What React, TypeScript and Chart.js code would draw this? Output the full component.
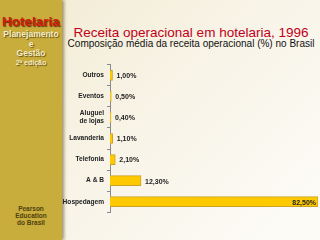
import React, { useEffect, useRef } from "react";
import { Chart, registerables } from "chart.js";

Chart.register(...registerables);

const categories: (string | string[])[] = [
  "Outros",
  "Eventos",
  ["Aluguel", "de lojas"],
  "Lavanderia",
  "Telefonia",
  "A & B",
  "Hospedagem",
];
const values = [1.0, 0.5, 0.4, 1.1, 2.1, 12.3, 82.5];
const valueLabels = ["1,00%", "0,50%", "0,40%", "1,10%", "2,10%", "12,30%", "82,50%"];

const FONT = "'Liberation Sans', Arial, sans-serif";

const labelPlugin = {
  id: "valueLabels",
  afterDatasetsDraw(chart: any) {
    const ctx = chart.ctx;
    const meta = chart.getDatasetMeta(0);
    ctx.save();
    ctx.font = `bold 7px ${FONT}`;
    ctx.fillStyle = "#222";
    ctx.textBaseline = "middle";
    meta.data.forEach((bar: any, i: number) => {
      const txt = valueLabels[i];
      const w = ctx.measureText(txt).width;
      if (bar.x + 4 + w > chart.chartArea.right) {
        ctx.textAlign = "right";
        ctx.fillText(txt, bar.x - 2, bar.y + 1);
      } else {
        ctx.textAlign = "left";
        ctx.fillText(txt, bar.x + 4, bar.y + 1);
      }
    });
    ctx.restore();
  },
};

export default function App() {
  const ref = useRef<HTMLCanvasElement>(null);
  useEffect(() => {
    if (!ref.current) return;
    const chart = new Chart(ref.current, {
      type: "bar",
      data: {
        labels: categories,
        datasets: [
          {
            data: values,
            backgroundColor: "#FFC900",
            borderColor: "#C9A227",
            borderWidth: 1,
            barThickness: 10,
          },
        ],
      },
      options: {
        indexAxis: "y",
        animation: false,
        responsive: false,
        maintainAspectRatio: false,
        layout: { padding: { left: 0, right: 2, top: 0, bottom: 0 } },
        plugins: {
          legend: { display: false },
          tooltip: { enabled: false },
          title: { display: false },
        },
        scales: {
          x: {
            display: false,
            min: 0,
            max: 82.5,
          },
          y: {
            afterFit: (s: any) => {
              s.width = 48;
            },
            border: { display: true, color: "#8a8a8a", width: 1 },
            grid: {
              display: true,
              drawOnChartArea: false,
              drawTicks: true,
              tickLength: 3,
              color: "#8a8a8a",
              offset: true,
            },
            ticks: {
              padding: 3,
              color: "#222",
              font: { family: FONT, size: 6.6, weight: "bold", lineHeight: 1.15 },
            },
          },
        },
      },
      plugins: [labelPlugin],
    });
    return () => chart.destroy();
  }, []);

  const shadow = "1px 1px 1px rgba(60,40,0,0.7)";
  return (
    <div
      style={{
        position: "fixed",
        left: 0,
        top: 0,
        width: 320,
        height: 240,
        overflow: "hidden",
        background: "linear-gradient(135deg, #F2EBD2 0%, #F8F4E8 50%, #FDFCF8 100%)",
        fontFamily: FONT,
      }}
    >
      <div
        style={{
          position: "absolute",
          left: 0,
          top: 0,
          width: 62,
          height: 240,
          background: "#C9AD3C",
          boxShadow: "2px 0 3px rgba(90,70,10,0.55)",
          textAlign: "center",
        }}
      >
        <div
          style={{
            position: "absolute",
            top: 15,
            width: 62,
            fontSize: 13.5,
            fontWeight: "bold",
            color: "#D01A0A",
            textShadow: "1px 1px 1px rgba(60,20,0,0.8)",
            lineHeight: "14px",
          }}
        >
          Hotelaria
        </div>
        <div
          style={{
            position: "absolute",
            top: 30,
            width: 62,
            fontSize: 8.5,
            fontWeight: "bold",
            color: "#F4EDC8",
            textShadow: shadow,
            lineHeight: "9.5px",
          }}
        >
          Planejamento
          <br />e<br />
          Gestão
        </div>
        <div
          style={{
            position: "absolute",
            top: 58.5,
            width: 62,
            fontSize: 7,
            fontWeight: "bold",
            color: "#F4EDC8",
            textShadow: shadow,
            lineHeight: "8px",
          }}
        >
          2ª edição
        </div>
        <div
          style={{
            position: "absolute",
            top: 205,
            width: 62,
            fontSize: 6.5,
            fontWeight: "bold",
            color: "#4E400E",
            lineHeight: "7px",
          }}
        >
          Pearson
          <br />
          Education
          <br />
          do Brasil
        </div>
      </div>
      <div
        style={{
          position: "absolute",
          left: 62,
          width: 258,
          top: 25,
          textAlign: "center",
          fontSize: 13.5,
          color: "#C0001A",
          lineHeight: "15px",
          whiteSpace: "nowrap",
        }}
      >
        Receita operacional em hotelaria, 1996
      </div>
      <div
        style={{
          position: "absolute",
          left: 62,
          width: 258,
          top: 38,
          textAlign: "center",
          fontSize: 10,
          color: "#111",
          lineHeight: "11px",
          whiteSpace: "nowrap",
        }}
      >
        Composição média da receita operacional (%) no Brasil
      </div>
      <canvas
        ref={ref}
        width={258}
        height={161}
        style={{ position: "absolute", left: 62, top: 58, width: 258, height: 161 }}
      />
    </div>
  );
}
